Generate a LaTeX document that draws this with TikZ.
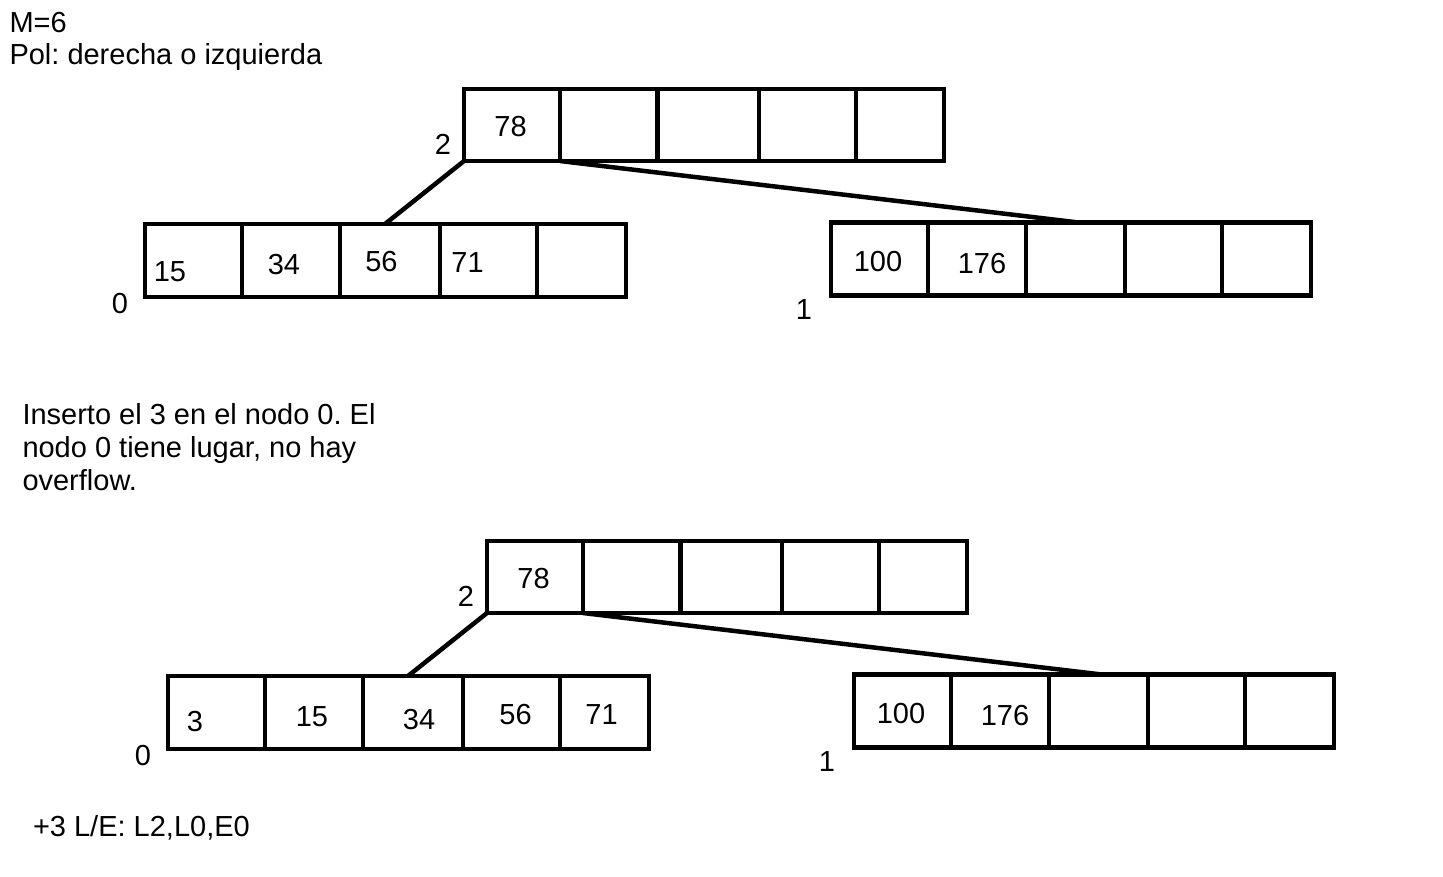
\documentclass[tikz,border=0pt]{standalone}
\usepackage{fontspec}
\setmainfont{Liberation Sans}
\frenchspacing
\tikzset{
  cell/.style={draw=black, line width=4.8pt, rectangle, inner sep=0pt, outer sep=0pt, anchor=north west},
  link/.style={draw=black, line width=4.5pt},
  txt/.style={font=\fontsize{29}{33}\selectfont, inner sep=0pt, outer sep=0pt, text=black},
  para/.style={txt, anchor=base west},
}
\newcommand\drawtree[1]{%
  \foreach \x/\w/\i in {464/96/1,560/97.5/2,657.5/101.5/3,759/97/4,856/88/5}
    \node[cell, minimum width=\w pt, minimum height=72pt] (#1r\i) at (\x,89) {};
  \foreach \x/\w/\i in {145/97/1,242/98/2,340/100/3,440/97/4,537/89/5}
    \node[cell, minimum width=\w pt, minimum height=73pt] (#1l\i) at (\x,224) {};
  \foreach \x/\w/\i in {831/97/1,928/98/2,1026/99/3,1125/97/4,1222/89/5}
    \node[cell, minimum width=\w pt, minimum height=73pt] (#1q\i) at (\x,222.3) {};
  \coordinate (#1lt) at (385,224);
  \coordinate (#1qt) at (1077,222.3);
  \draw[link] (#1r1.south west) -- (#1lt);
  \draw[link] (#1r1.south east) -- (#1qt);
  \node[txt] (#1n2) at (443,144) {2};
  \node[txt] (#1n0) at (120,303.5) {0};
  \node[txt] (#1n1) at (804,310) {1};
  \node[txt] (#1k78) at (510.5,126.5) {78};
  \node[txt] (#1k100) at (878,262) {100};
  \node[txt] (#1k176) at (982,264) {176};
}
\begin{document}
\begin{tikzpicture}[x=1pt, y=-1pt]
  \useasboundingbox (0,0) rectangle (1443,876);
  \fill[white] (0,0) rectangle (1443,876);

  \node[para] (m6) at (9.5,32.3) {M=6};
  \node[para] (pol) at (9.5,64) {Pol: derecha o izquierda};

  % first tree
  \begin{scope}
    \drawtree{a}
    \node[txt] (ak15) at (170,272) {15};
    \node[txt] (ak34) at (284,264.5) {34};
    \node[txt] (ak56) at (381.5,261.5) {56};
    \node[txt] (ak71) at (467.5,263) {71};
  \end{scope}

  \node[para] (ins1) at (22.5,424.3) {Inserto el 3 en el nodo 0. El};
  \node[para] (ins2) at (22.5,457.5) {nodo 0 tiene lugar, no hay};
  \node[para] (ins3) at (22.5,490.5) {overflow.};

  % second tree
  \begin{scope}[shift={(23,452)}]
    \drawtree{b}
    \node[txt] (bk3) at (172,270) {3};
    \node[txt] (bk15) at (289,265) {15};
    \node[txt] (bk34) at (396,268) {34};
    \node[txt] (bk56) at (492.5,262.8) {56};
    \node[txt] (bk71) at (578.5,262.5) {71};
  \end{scope}

  \node[para] (le) at (33,836) {+3 L/E: L2,L0,E0};
\end{tikzpicture}
\end{document}
